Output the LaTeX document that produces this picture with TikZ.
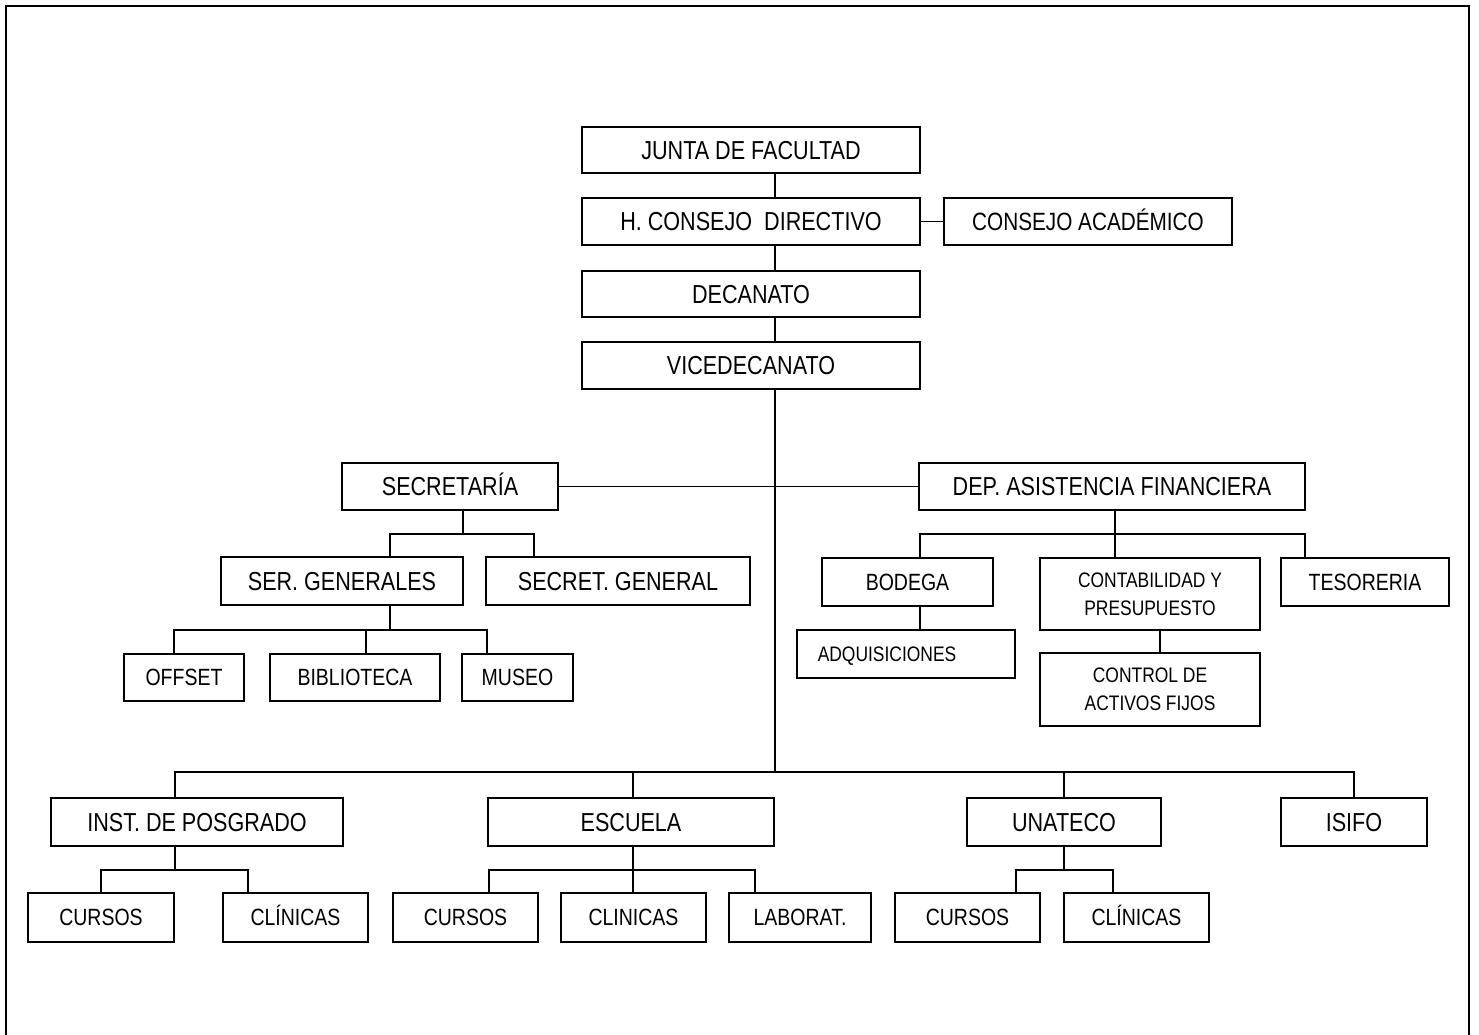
\documentclass[tikz,border=0pt]{standalone}
\usepackage{fontspec}
\setmainfont[FakeStretch=0.83]{Liberation Sans}
\usepackage{tikz}
\usetikzlibrary{positioning}
\newcommand{\fsa}{\fontsize{26}{30}\selectfont}
\newcommand{\fsb}{\fontsize{23.5}{27}\selectfont}
\newcommand{\fsc}{\fontsize{21}{28}\selectfont}
\begin{document}
\begin{tikzpicture}[x=1pt, y=-1pt,
    box/.style={draw, line width=1.8pt, inner sep=0pt, font=\fsa, text height=18.6pt, text depth=0pt},
    boxb/.style={box, font=\fsb, text height=16.8pt},
    boxm/.style={draw, line width=1.8pt, inner sep=0pt, align=center, font=\fsc},
    conn/.style={line width=1.8pt},
]
\useasboundingbox (0,0) rectangle (1479,1034);
% outer frame (open at the bottom)
\draw[line width=2.2pt] (6,1040) -- (6,6) -- (1469,6) -- (1469,1040);

% top line of command
\node[box, minimum width=338, minimum height=46] (junta) at (751,150) {JUNTA DE FACULTAD};
\node[box, minimum width=338, minimum height=47] (hcd) at (751,221.5) {H. CONSEJO\ \ DIRECTIVO};
\node[box, minimum width=288, minimum height=47, font=\fontsize{25}{29}\selectfont, text height=17.9pt] (acad) at (1088,221.5) {CONSEJO ACADÉMICO};
\node[box, minimum width=338, minimum height=46] (decanato) at (751,294) {DECANATO};
\node[box, minimum width=338, minimum height=47] (vice) at (751,365.5) {VICEDECANATO};

\draw[conn] (775,0 |- junta.south) -- (775,0 |- hcd.north);
\draw[conn] (775,0 |- hcd.south) -- (775,0 |- decanato.north);
\draw[conn] (775,0 |- decanato.south) -- (775,0 |- vice.north);
\draw[conn] (hcd) -- (acad);
\draw[conn] (775,0 |- vice.south) -- (775,772);

% secretaria and financial department
\node[box, minimum width=216, minimum height=47] (secretaria) at (450,486.5) {SECRETARÍA};
\node[box, minimum width=386, minimum height=47] (depfin) at (1112,486.5) {DEP. ASISTENCIA FINANCIERA};
\draw[conn] (secretaria) -- (depfin);

\node[box, minimum width=242, minimum height=48] (sergen) at (342,581) {SER. GENERALES};
\node[box, minimum width=264, minimum height=48] (secgen) at (618,581) {SECRET. GENERAL};
\draw[conn] (463,0 |- secretaria.south) -- (463,534);
\draw[conn] (390,0 |- sergen.north) |- (534,534) -- (534,0 |- secgen.north);

\node[boxb, minimum width=120, minimum height=47] (offset) at (184,677.5) {OFFSET};
\node[boxb, minimum width=170, minimum height=47] (biblio) at (355,677.5) {BIBLIOTECA};
\node[boxb, minimum width=111, minimum height=47] (museo) at (517.5,677.5) {MUSEO};
\draw[conn] (390,0 |- sergen.south) -- (390,630);
\draw[conn] (174,0 |- offset.north) |- (487,630) -- (487,0 |- museo.north);
\draw[conn] (366,0 |- biblio.north) -- (366,630);

\node[boxb, minimum width=171, minimum height=48] (bodega) at (907.5,582) {BODEGA};
\node[boxm, minimum width=220, minimum height=72] (contab) at (1150,594) {CONTABILIDAD Y\\PRESUPUESTO};
\node[boxb, minimum width=168, minimum height=48] (tesor) at (1365,582) {TESORERIA};
\draw[conn] (1115,0 |- depfin.south) -- (1115,0 |- contab.north);
\draw[conn] (920,0 |- bodega.north) |- (1305,534) -- (1305,0 |- tesor.north);

\node[box, font=\fsc, text height=15pt, minimum width=218, minimum height=48] (adq) at (906,654) {ADQUISICIONES\hspace*{38pt}};
\node[boxm, minimum width=220, minimum height=73] (control) at (1150,689.5) {CONTROL DE\\ACTIVOS FIJOS};
\draw[conn] (920,0 |- bodega.south) -- (920,0 |- adq.north);
\draw[conn] (1160,0 |- contab.south) -- (1160,0 |- control.north);

% academic units
\node[box, minimum width=292, minimum height=48] (inst) at (197,822) {INST. DE POSGRADO};
\node[box, minimum width=286, minimum height=48] (escuela) at (631,822) {ESCUELA};
\node[box, minimum width=194, minimum height=48] (unateco) at (1064,822) {UNATECO};
\node[box, minimum width=146, minimum height=48] (isifo) at (1354,822) {ISIFO};
\draw[conn] (175,0 |- inst.north) |- (1354,772) -- (1354,0 |- isifo.north);
\draw[conn] (633,772) -- (633,0 |- escuela.north);
\draw[conn] (1064,772) -- (1064,0 |- unateco.north);

\node[boxb, minimum width=146, minimum height=49] (cursosA) at (101,917.5) {CURSOS};
\node[boxb, minimum width=145, minimum height=49] (clinA) at (295.5,917.5) {CLÍNICAS};
\node[boxb, minimum width=145, minimum height=49] (cursosB) at (465.5,917.5) {CURSOS};
\node[boxb, minimum width=145, minimum height=49] (clinB) at (633.5,917.5) {CLINICAS};
\node[boxb, minimum width=142, minimum height=49] (labor) at (800,917.5) {LABORAT.};
\node[boxb, minimum width=145, minimum height=49] (cursosC) at (967.5,917.5) {CURSOS};
\node[boxb, minimum width=145, minimum height=49] (clinC) at (1136.5,917.5) {CLÍNICAS};

\draw[conn] (175,0 |- inst.south) -- (175,870);
\draw[conn] (101,0 |- cursosA.north) |- (248,870) -- (248,0 |- clinA.north);
\draw[conn] (633,0 |- escuela.south) -- (633,0 |- clinB.north);
\draw[conn] (489,0 |- cursosB.north) |- (755,870) -- (755,0 |- labor.north);
\draw[conn] (1064,0 |- unateco.south) -- (1064,870);
\draw[conn] (1016,0 |- cursosC.north) |- (1113,870) -- (1113,0 |- clinC.north);
\end{tikzpicture}
\end{document}
